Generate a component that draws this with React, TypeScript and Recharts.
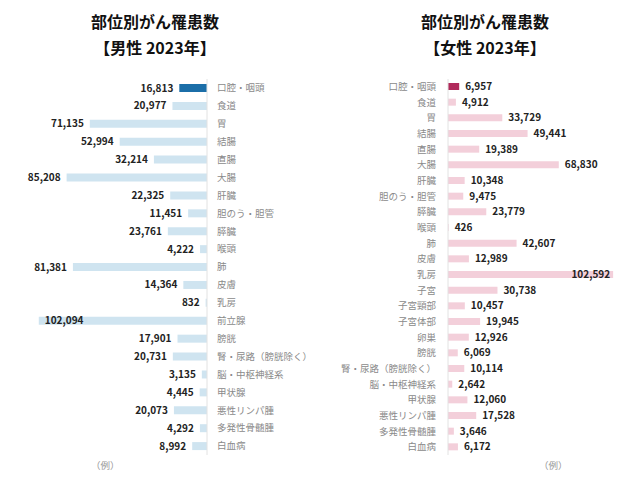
import React from "react";
import { BarChart, Bar, XAxis, YAxis, Cell, LabelList } from "recharts";

const maleCategories = [
  "口腔・咽頭", "食道", "胃", "結腸", "直腸", "大腸", "肝臓", "胆のう・胆管", "膵臓", "喉頭", "肺",
  "皮膚", "乳房", "前立腺", "膀胱", "腎・尿路（膀胱除く）", "脳・中枢神経系", "甲状腺", "悪性リンパ腫",
  "多発性骨髄腫", "白血病",
];
const maleValues = [
  16813, 20977, 71135, 52994, 32214, 85208, 22325, 11451, 23761, 4222, 81381,
  14364, 832, 102094, 17901, 20731, 3135, 4445, 20073, 4292, 8992,
];

const femaleCategories = [
  "口腔・咽頭", "食道", "胃", "結腸", "直腸", "大腸", "肝臓", "胆のう・胆管", "膵臓", "喉頭", "肺",
  "皮膚", "乳房", "子宮", "子宮頸部", "子宮体部", "卵巣", "膀胱", "腎・尿路（膀胱除く）", "脳・中枢神経系",
  "甲状腺", "悪性リンパ腫", "多発性骨髄腫", "白血病",
];
const femaleValues = [
  6957, 4912, 33729, 49441, 19389, 68830, 10348, 9475, 23779, 426, 42607,
  12989, 102592, 30738, 10457, 19945, 12926, 6069, 10114, 2642,
  12060, 17528, 3646, 6172,
];

const titles = ["部位別がん罹患数", "【男性 2023年】", "【女性 2023年】"];
const footNote = "（例）";

const maleData = maleCategories.map((name, i) => ({ name, value: maleValues[i] }));
const femaleData = femaleCategories.map((name, i) => ({ name, value: femaleValues[i] }));

const FONT = "'Noto Sans CJK JP', 'Noto Sans', sans-serif";
const fmt = (v: number) => v.toLocaleString("en-US");

const MaleLabel = (props: any) => {
  const { x, y, width, height, value } = props;
  const left = Math.min(x, x + width);
  const cy = y + height / 2;
  const inside = value > 95000;
  return (
    <text
      x={inside ? left + 6 : left - 6}
      y={cy}
      dy="0.35em"
      textAnchor={inside ? "start" : "end"}
      fontSize={10}
      fontWeight={700}
      fill="#222"
      fontFamily={FONT}
    >
      {fmt(value)}
    </text>
  );
};

const FemaleLabel = (props: any) => {
  const { x, y, width, height, value } = props;
  const right = Math.max(x, x + width);
  const cy = y + height / 2;
  const inside = value > 95000;
  return (
    <text
      x={inside ? right - 3 : right + 6}
      y={cy}
      dy="0.35em"
      textAnchor={inside ? "end" : "start"}
      fontSize={10}
      fontWeight={700}
      fill="#222"
      fontFamily={FONT}
    >
      {fmt(value)}
    </text>
  );
};

const MaleTick = (props: any) => {
  const { x, y, payload } = props;
  return (
    <text x={x + 2} y={y} dy="0.35em" textAnchor="start" fontSize={9.5} fill="#8a8a8a" fontFamily={FONT}>
      {payload.value}
    </text>
  );
};

const FemaleTick = (props: any) => {
  const { x, y, payload } = props;
  return (
    <text x={x - 4} y={y} dy="0.35em" textAnchor="end" fontSize={9.5} fill="#8a8a8a" fontFamily={FONT}>
      {payload.value}
    </text>
  );
};

export default function App() {
  return (
    <div
      style={{
        position: "absolute",
        left: 0,
        top: 0,
        width: 640,
        height: 480,
        background: "#fff",
        fontFamily: FONT,
        overflow: "hidden",
      }}
    >
      <div style={{ position: "absolute", left: 0, top: 8, width: 310, textAlign: "center", fontSize: 16, fontWeight: 700, lineHeight: "26px", color: "#111" }}>
        <div>{titles[0]}</div>
        <div>{titles[1]}</div>
      </div>
      <div style={{ position: "absolute", left: 330, top: 8, width: 310, textAlign: "center", fontSize: 16, fontWeight: 700, lineHeight: "26px", color: "#111" }}>
        <div>{titles[0]}</div>
        <div>{titles[2]}</div>
      </div>

      <div style={{ position: "absolute", left: 0, top: 0 }}>
        <BarChart
          width={320}
          height={480}
          data={maleData}
          layout="vertical"
          margin={{ top: 79, right: 0, bottom: 25, left: 34 }}
          barCategoryGap={0}
        >
          <XAxis type="number" domain={[0, 105000]} reversed hide />
          <YAxis
            type="category"
            dataKey="name"
            orientation="right"
            width={113}
            tickLine={false}
            axisLine={{ stroke: "#e2e2e2" }}
            tick={<MaleTick />}
            interval={0}
          />
          <Bar dataKey="value" barSize={8} isAnimationActive={false}>
            {maleData.map((d, i) => (
              <Cell key={d.name} fill={i === 0 ? "#1b6ea8" : "#cfe4f0"} />
            ))}
            <LabelList dataKey="value" content={<MaleLabel />} />
          </Bar>
        </BarChart>
      </div>

      <div style={{ position: "absolute", left: 320, top: 0 }}>
        <BarChart
          width={320}
          height={480}
          data={femaleData}
          layout="vertical"
          margin={{ top: 79, right: 23, bottom: 25, left: 0 }}
          barCategoryGap={0}
        >
          <XAxis type="number" domain={[0, 105000]} hide />
          <YAxis
            type="category"
            dataKey="name"
            orientation="left"
            width={128}
            tickLine={false}
            axisLine={{ stroke: "#e2e2e2" }}
            tick={<FemaleTick />}
            interval={0}
          />
          <Bar dataKey="value" barSize={7} isAnimationActive={false}>
            {femaleData.map((d, i) => (
              <Cell key={d.name} fill={i === 0 ? "#b02a5b" : "#f3cfda"} />
            ))}
            <LabelList dataKey="value" content={<FemaleLabel />} />
          </Bar>
        </BarChart>
      </div>

      <div style={{ position: "absolute", left: 91, top: 458, fontSize: 9.5, color: "#999" }}>{footNote}</div>
      <div style={{ position: "absolute", left: 539, top: 458, fontSize: 9.5, color: "#999" }}>{footNote}</div>
    </div>
  );
}
